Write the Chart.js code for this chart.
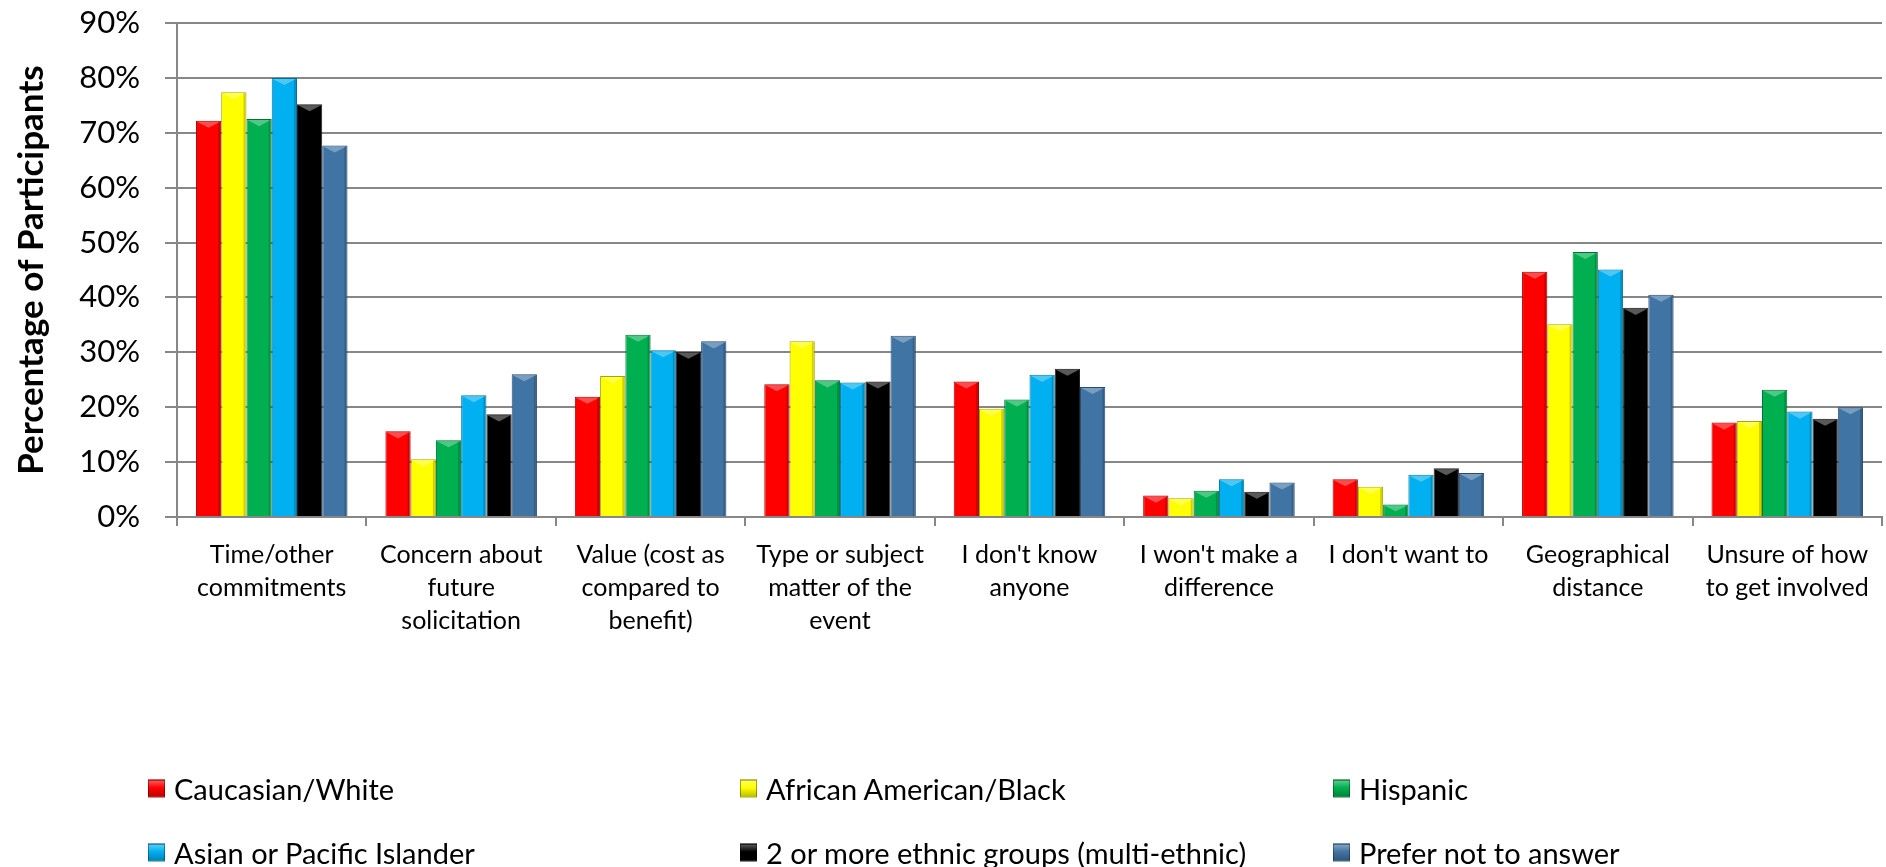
<!DOCTYPE html>
<html>
<head>
<meta charset="utf-8">
<script src="https://cdn.jsdelivr.net/npm/chart.js@4"></script>
<style>
  body { margin: 0; background: #fff; }
  #wrap { position: relative; width: 1886px; height: 867px; }
  #legend { position: absolute; left: 0; top: 0; font-family: Lato, sans-serif; font-size: 29px; color: #000; }
  .item { position: absolute; display: flex; align-items: center; white-space: nowrap; transform: translateY(-50%); }
  .box { width: 17px; height: 18px; margin-right: 9px; box-sizing: border-box; border: 1px solid rgba(0,0,0,0.35); }
</style>
</head>
<body>
<div id="wrap">
  <canvas id="chart" width="1886" height="867"></canvas>
  <div id="legend"></div>
</div>
<script>
// categories (x axis labels, multi-line)
const categories = [
    ['Time/other', 'commitments'],
    ['Concern about', 'future', 'solicitation'],
    ['Value (cost as', 'compared to', 'benefit)'],
    ['Type or subject', 'matter of the', 'event'],
    ["I don't know", 'anyone'],
    ["I won't make a", 'difference'],
    ["I don't want to"],
    ['Geographical', 'distance'],
    ['Unsure of how', 'to get involved']
];

// series values, percent of participants
const caucasian = [72.2, 15.6, 21.9, 24.2, 24.7, 3.9, 6.9, 44.7, 17.2];
const african   = [77.4, 10.5, 25.7, 32.0, 19.7, 3.4, 5.5, 35.1, 17.5];
const hispanic  = [72.5, 14.0, 33.2, 24.9, 21.4, 4.8, 2.3, 48.3, 23.2];
const asian     = [80.0, 22.2, 30.4, 24.5, 25.9, 6.9, 7.7, 45.1, 19.2];
const multi     = [75.2, 18.7, 30.1, 24.7, 27.0, 4.6, 8.9, 38.1, 17.9];
const preferNot = [67.7, 26.0, 32.0, 33.0, 23.7, 6.3, 8.0, 40.5, 20.0];

const seriesNames = ['Caucasian/White', 'African American/Black', 'Hispanic',
    'Asian or Pacific Islander', '2 or more ethnic groups (multi-ethnic)', 'Prefer not to answer'];
const seriesData = [caucasian, african, hispanic, asian, multi, preferNot];
const seriesColors = ['#FF0000', '#FFFF00', '#00B050', '#00B0F0', '#000000', '#4074A4'];

// y axis ticks
const yTicks = [0, 10, 20, 30, 40, 50, 60, 70, 80, 90];

const GRID = '#878787';

function shade(hex, amt) {
    // amt > 0 lighten toward white, < 0 darken toward black
    const n = parseInt(hex.slice(1), 16);
    let r = n >> 16, g = (n >> 8) & 255, b = n & 255;
    const t = amt > 0 ? 255 : 0, p = Math.abs(amt);
    r = Math.round(r + (t - r) * p); g = Math.round(g + (t - g) * p); b = Math.round(b + (t - b) * p);
    return 'rgb(' + r + ',' + g + ',' + b + ')';
}

// Draw the little bevelled top on every bar, like the original 3D look
const bevelPlugin = {
    id: 'bevel',
    afterDatasetsDraw(chart) {
        const ctx = chart.ctx;
        ctx.save();
        chart.data.datasets.forEach((ds, i) => {
            const meta = chart.getDatasetMeta(i);
            const base = seriesColors[i];
            meta.data.forEach(bar => {
                const {x, y, width, base: b} = bar.getProps(['x', 'y', 'width', 'base'], true);
                const l = x - width / 2, r = x + width / 2;
                const h = Math.min(width * 0.28, (b - y) * 0.6);
                ctx.fillStyle = shade(base, base === '#000000' ? 0.35 : 0.3);
                ctx.beginPath();
                ctx.moveTo(l + 1, y + 1);
                ctx.lineTo(r - 1, y + 1);
                ctx.lineTo(x, y + h);
                ctx.closePath();
                ctx.fill();
                // darker edge on the right
                ctx.fillStyle = 'rgba(0,0,0,0.18)';
                ctx.fillRect(r - 3, y + 1, 2, b - y - 1);
            });
        });
        ctx.restore();
    }
};

const ctx = document.getElementById('chart').getContext('2d');
const chart = new Chart(ctx, {
    type: 'bar',
    data: {
        labels: categories,
        datasets: seriesData.map((d, i) => ({
            label: seriesNames[i],
            data: d,
            backgroundColor: seriesColors[i],
            borderColor: shade(seriesColors[i] === '#000000' ? '#333333' : seriesColors[i], -0.35),
            borderWidth: 1,
            categoryPercentage: 0.8,
            barPercentage: 1.0
        }))
    },
    options: {
        responsive: false,
        animation: false,
        events: [],
        layout: { padding: { top: 23, right: 4, left: 0, bottom: 0 } },
        plugins: {
            legend: { display: false },
            tooltip: { enabled: false }
        },
        scales: {
            x: {
                grid: { display: true, drawOnChartArea: false, drawTicks: true, tickLength: 9, color: GRID, lineWidth: 2 },
                border: { display: true, color: GRID, width: 2 },
                ticks: {
                    color: '#000',
                    font: { family: 'Lato', size: 25, lineHeight: 1.33 },
                    padding: 12,
                    maxRotation: 0,
                    autoSkip: false
                },
                afterFit: s => { s.height = 350; }
            },
            y: {
                min: 0,
                max: 90,
                afterBuildTicks: s => { s.ticks = yTicks.map(v => ({ value: v })); },
                grid: { color: GRID, lineWidth: 2, tickLength: 12 },
                border: { display: true, color: GRID, width: 2 },
                ticks: {
                    color: '#000',
                    font: { family: 'Lato', size: 31 },
                    padding: 25,
                    callback: v => v + '%'
                },
                title: {
                    display: true,
                    text: 'Percentage of Participants',
                    color: '#000',
                    font: { family: 'Lato', size: 35, weight: 'bold' },
                    padding: { top: 11, bottom: 0 }
                },
                afterFit: s => {
                    s.width = 177;
                    // the label padding would push the plot down, top is set by layout padding
                    s.paddingTop = 0;
                    s.paddingBottom = 0;
                }
            }
        }
    },
    plugins: [bevelPlugin]
});

// legend, 3 columns x 2 rows, built from the series arrays
const legendCols = [148, 740, 1333];
const legendRows = [788, 852];
const legend = document.getElementById('legend');
seriesNames.forEach((name, i) => {
    const item = document.createElement('div');
    item.className = 'item';
    item.style.left = legendCols[i % 3] + 'px';
    item.style.top = legendRows[Math.floor(i / 3)] + 'px';
    const box = document.createElement('span');
    box.className = 'box';
    box.style.background = 'linear-gradient(180deg,' + shade(seriesColors[i], 0.35) + ' 0%,' + seriesColors[i] + ' 45%,' + shade(seriesColors[i], -0.25) + ' 100%)';
    const txt = document.createElement('span');
    txt.textContent = name;
    item.appendChild(box);
    item.appendChild(txt);
    legend.appendChild(item);
});

if (document.fonts) document.fonts.ready.then(() => chart.update());
</script>
</body>
</html>
